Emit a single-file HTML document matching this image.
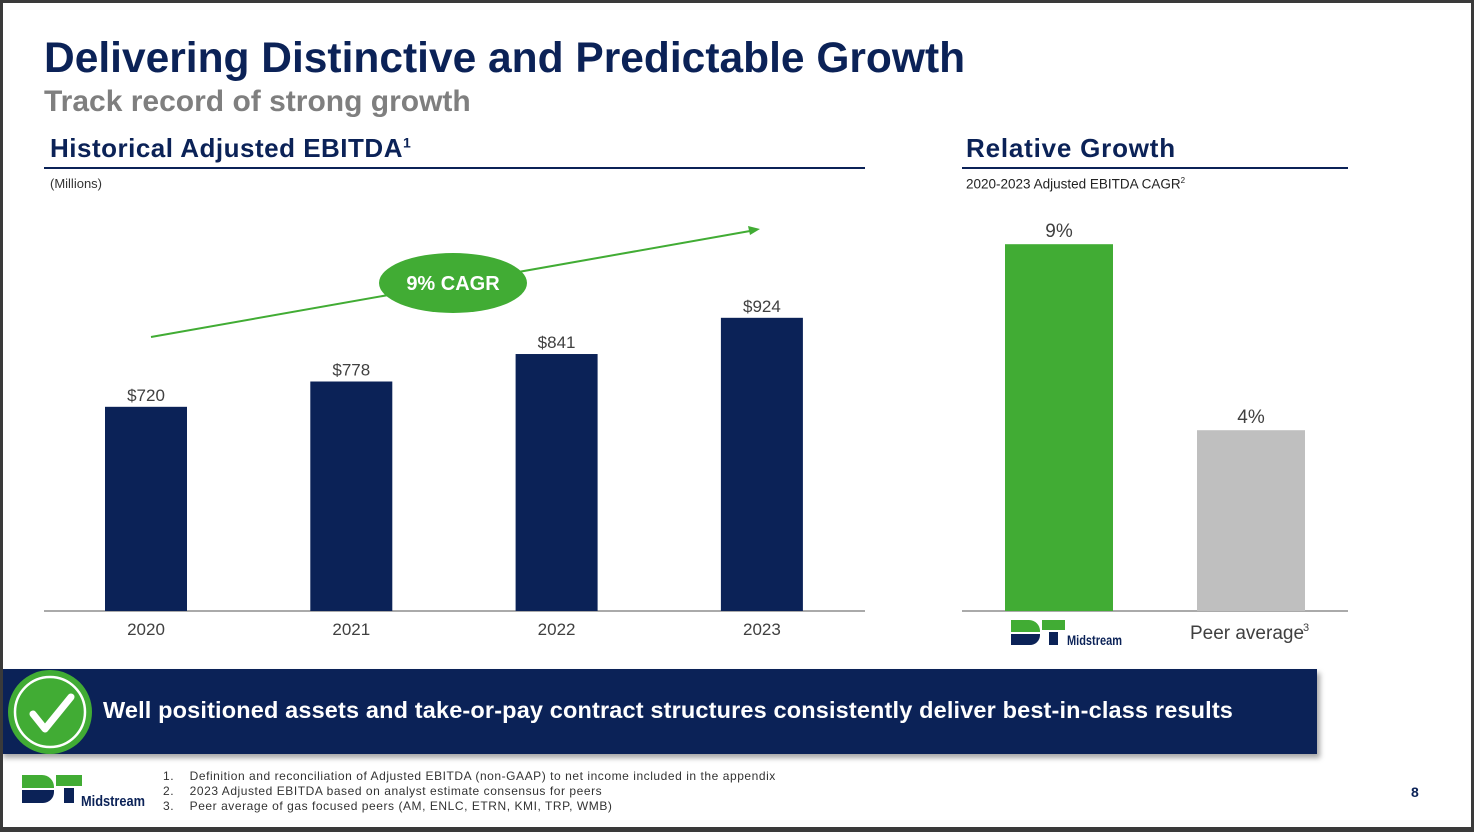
<!DOCTYPE html>
<html><head><meta charset="utf-8"><style>
body{margin:0;}
#slide{position:relative;width:1468px;height:824px;border:3px solid #3a3a3a;border-bottom:5px solid #3a3a3a;background:#fff;overflow:hidden;font-family:"Liberation Sans","DejaVu Sans",sans-serif;}
.abs{position:absolute;white-space:nowrap;}
</style></head><body>
<div id="slide">
<div class="abs" style="left:41px;top:32px;font-size:42.5px;font-weight:bold;color:#0b2257;">Delivering Distinctive and Predictable Growth</div>
<div class="abs" style="left:41px;top:82px;font-size:30px;font-weight:bold;color:#7f7f7f;">Track record of strong growth</div>
<div class="abs" style="left:47px;top:130px;font-size:26px;font-weight:bold;color:#0b2257;letter-spacing:0.5px;">Historical Adjusted EBITDA<sup style="font-size:14px">1</sup></div>
<div class="abs" style="left:41px;top:164px;width:821px;height:2px;background:#0b2257;"></div>
<div class="abs" style="left:47px;top:173px;font-size:13px;color:#333;">(Millions)</div>
<div class="abs" style="left:963px;top:130px;font-size:26px;font-weight:bold;color:#0b2257;letter-spacing:0.8px;">Relative Growth</div>
<div class="abs" style="left:959px;top:164px;width:386px;height:2px;background:#0b2257;"></div>
<div class="abs" style="left:963px;top:173px;font-size:13.5px;color:#222;">2020-2023 Adjusted EBITDA CAGR<sup style="font-size:8px">2</sup></div>

<svg class="abs" style="left:-3px;top:-3px" width="1474" height="832">
<g id="left"></g><g id="right"></g>
</svg>

<div class="abs" style="left:-3px;top:666px;width:1317px;height:85px;background:#0b2257;box-shadow:3px 4px 5px rgba(0,0,0,0.35);"></div>
<div class="abs" style="left:100px;top:694px;font-size:23.5px;font-weight:bold;color:#fff;letter-spacing:0.15px;">Well positioned assets and take-or-pay contract structures consistently deliver best-in-class results</div>
<svg class="abs" style="left:2px;top:664px" width="92" height="92">
<circle cx="45" cy="45" r="42" fill="#41ac34"/>
<circle cx="45" cy="45" r="35" fill="none" stroke="#fff" stroke-width="2.5"/>
<path d="M28 47 L40 62 L66 30" fill="none" stroke="#fff" stroke-width="7" stroke-linecap="round" stroke-linejoin="round"/>
</svg>

<div class="abs" style="left:19px;top:772px;">
<svg width="130" height="34"><path d="M0 0 H20 A12 12 0 0 1 32 12 V13 H0Z" fill="#41ac34"/><path d="M0 15 H32 V17 A11 11 0 0 1 21 28 H0Z" fill="#0b2257"/><rect x="34" y="0" width="26" height="11" fill="#41ac34"/><rect x="42" y="13" width="10" height="15" fill="#0b2257"/>
<text x="59" y="31" font-size="15" font-weight="bold" fill="#0b2257" textLength="64" lengthAdjust="spacingAndGlyphs">Midstream</text></svg></div>
<div class="abs" style="left:160px;top:766px;font-size:12px;color:#333;line-height:15px;letter-spacing:0.55px;">
<div>1.&nbsp;&nbsp;&nbsp;&nbsp;Definition and reconciliation of Adjusted EBITDA (non-GAAP) to net income included in the appendix</div>
<div>2.&nbsp;&nbsp;&nbsp;&nbsp;2023 Adjusted EBITDA based on analyst estimate consensus for peers</div>
<div>3.&nbsp;&nbsp;&nbsp;&nbsp;Peer average of gas focused peers (AM, ENLC, ETRN, KMI, TRP, WMB)</div></div>
<div class="abs" style="left:1408px;top:781px;font-size:14px;color:#0b2257;font-weight:bold;">8</div>
</div>
<script>
const years=["2020","2021","2022","2023"];
const ebitda=[720,778,841,924];
const ebitdaLabels=["$720","$778","$841","$924"];
const relCats=["DT Midstream","Peer average"];
const relValues=[9,4];
const relLabels=["9%","4%"];
const NS="http://www.w3.org/2000/svg";
function mk(p,t,a){const e=document.createElementNS(NS,t);for(const k in a)e.setAttribute(k,a[k]);p.appendChild(e);return e;}
const base=611;
function yL(v){return base-(v-252)*0.4363;}
function xL(i){return 146+i*205.3;}
function yR(v){return base-(v*37.2+32);}
function xR(i){return 1059+i*192;}
const L=document.getElementById('left'),R=document.getElementById('right');
let ax=mk(L,'line',{x1:44,x2:865,y1:base,y2:base,stroke:'#555','stroke-width':1});

years.forEach((y,i)=>{
 const b=mk(L,'rect',{x:xL(i)-41,y:yL(ebitda[i]),width:82,height:base-yL(ebitda[i]),fill:'#0b2257'});
 
 const t=mk(L,'text',{x:xL(i),y:yL(ebitda[i])-6,'text-anchor':'middle','font-size':17,fill:'#404040'});t.textContent=ebitdaLabels[i];
 
 const c=mk(L,'text',{x:xL(i),y:635,'text-anchor':'middle','font-size':17,fill:'#404040'});c.textContent=y;
 
});
const ar=mk(L,'line',{x1:151,y1:337,x2:750,y2:231,stroke:'#41ac34','stroke-width':2});

const ah=mk(L,'path',{d:'M760 229 L748 226 L750 235 Z',fill:'#41ac34'});

const el=mk(L,'ellipse',{cx:453,cy:283,rx:74,ry:30,fill:'#41ac34'});

const et=mk(L,'text',{x:453,y:290,'text-anchor':'middle','font-size':20,'font-weight':'bold',fill:'#fff'});et.textContent='9% CAGR';

let ax2=mk(R,'line',{x1:962,x2:1348,y1:base,y2:base,stroke:'#555','stroke-width':1});

const cols=['#41ac34','#bfbfbf'];
relValues.forEach((v,i)=>{
 const b=mk(R,'rect',{x:xR(i)-54,y:yR(v),width:108,height:base-yR(v),fill:cols[i]});
 
 const t=mk(R,'text',{x:xR(i),y:yR(v)-7,'text-anchor':'middle','font-size':19,fill:'#404040'});t.textContent=relLabels[i];
 
});
const pl=mk(R,'text',{x:xR(1)-4,y:639,'text-anchor':'middle','font-size':19,fill:'#404040'});pl.textContent='Peer average';

const sp=mk(R,'text',{x:xR(1)+52,y:631,'font-size':11,fill:'#404040'});sp.textContent='3';

const lg=mk(R,'g',{transform:'translate(1011,620)'});

lg.innerHTML='<path d="M0 0 H18 A11 11 0 0 1 29 11 V12 H0Z" fill="#41ac34"/><path d="M0 14 H29 V15 A10 10 0 0 1 19 25 H0Z" fill="#0b2257"/><rect x="31" y="0" width="23" height="10" fill="#41ac34"/><rect x="38" y="12" width="9" height="13" fill="#0b2257"/><text x="56" y="25" font-size="14" font-weight="bold" fill="#0b2257" textLength="55" lengthAdjust="spacingAndGlyphs">Midstream</text>';
</script>
</body></html>
